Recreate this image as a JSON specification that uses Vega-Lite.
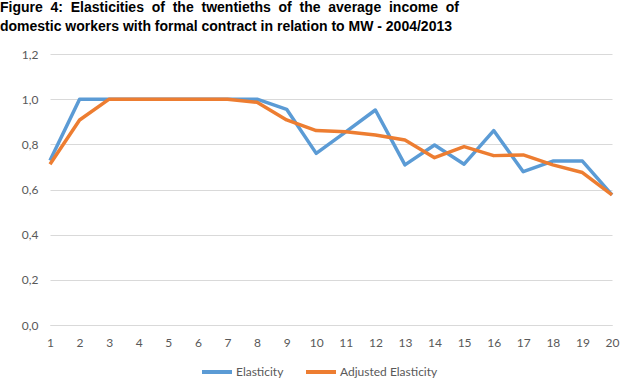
{
  "$schema": "https://vega.github.io/schema/vega-lite/v6.json",
  "width": 562,
  "height": 271,
  "autosize": {"type": "none"},
  "padding": {"left": 50, "top": 54, "right": 28, "bottom": 65},
  "background": "white",
  "title": {
    "text": ["Figure \u00a04: \u00a0Elasticities \u00a0of \u00a0the \u00a0twentieths \u00a0of \u00a0the \u00a0average \u00a0income \u00a0of", "domestic workers with formal contract in relation to MW - 2004/2013"],
    "anchor": "start",
    "frame": "group",
    "dx": -50,
    "offset": 14,
    "font": "Liberation Sans",
    "fontSize": 14,
    "fontWeight": "bold",
    "color": "#000000",
    "lineHeight": 19
  },
  "data": {
    "values": [
      {"k": 1, "series": "Elasticity", "value": 0.728},
      {"k": 2, "series": "Elasticity", "value": 1.0},
      {"k": 3, "series": "Elasticity", "value": 1.0},
      {"k": 4, "series": "Elasticity", "value": 1.0},
      {"k": 5, "series": "Elasticity", "value": 1.0},
      {"k": 6, "series": "Elasticity", "value": 1.0},
      {"k": 7, "series": "Elasticity", "value": 1.0},
      {"k": 8, "series": "Elasticity", "value": 1.0},
      {"k": 9, "series": "Elasticity", "value": 0.955},
      {"k": 10, "series": "Elasticity", "value": 0.76},
      {"k": 11, "series": "Elasticity", "value": 0.855},
      {"k": 12, "series": "Elasticity", "value": 0.952},
      {"k": 13, "series": "Elasticity", "value": 0.709},
      {"k": 14, "series": "Elasticity", "value": 0.797},
      {"k": 15, "series": "Elasticity", "value": 0.712},
      {"k": 16, "series": "Elasticity", "value": 0.861},
      {"k": 17, "series": "Elasticity", "value": 0.679},
      {"k": 18, "series": "Elasticity", "value": 0.726},
      {"k": 19, "series": "Elasticity", "value": 0.726},
      {"k": 20, "series": "Elasticity", "value": 0.576},
      {"k": 1, "series": "Adjusted Elasticity", "value": 0.712},
      {"k": 2, "series": "Adjusted Elasticity", "value": 0.908},
      {"k": 3, "series": "Adjusted Elasticity", "value": 1.0},
      {"k": 4, "series": "Adjusted Elasticity", "value": 1.0},
      {"k": 5, "series": "Adjusted Elasticity", "value": 1.0},
      {"k": 6, "series": "Adjusted Elasticity", "value": 1.0},
      {"k": 7, "series": "Adjusted Elasticity", "value": 1.0},
      {"k": 8, "series": "Adjusted Elasticity", "value": 0.986},
      {"k": 9, "series": "Adjusted Elasticity", "value": 0.908},
      {"k": 10, "series": "Adjusted Elasticity", "value": 0.861},
      {"k": 11, "series": "Adjusted Elasticity", "value": 0.856},
      {"k": 12, "series": "Adjusted Elasticity", "value": 0.841},
      {"k": 13, "series": "Adjusted Elasticity", "value": 0.819},
      {"k": 14, "series": "Adjusted Elasticity", "value": 0.741},
      {"k": 15, "series": "Adjusted Elasticity", "value": 0.79},
      {"k": 16, "series": "Adjusted Elasticity", "value": 0.75},
      {"k": 17, "series": "Adjusted Elasticity", "value": 0.753},
      {"k": 18, "series": "Adjusted Elasticity", "value": 0.709},
      {"k": 19, "series": "Adjusted Elasticity", "value": 0.675},
      {"k": 20, "series": "Adjusted Elasticity", "value": 0.576}
    ]
  },
  "mark": {"type": "line", "strokeWidth": 3.5, "strokeJoin": "round", "strokeCap": "butt"},
  "encoding": {
    "x": {
      "field": "k",
      "type": "quantitative",
      "scale": {"domain": [1, 20], "nice": false, "zero": false},
      "axis": {
        "title": null,
        "values": [1, 2, 3, 4, 5, 6, 7, 8, 9, 10, 11, 12, 13, 14, 15, 16, 17, 18, 19, 20],
        "grid": false,
        "ticks": false,
        "domain": true,
        "domainColor": "#D9D9D9",
        "domainWidth": 1,
        "labelPadding": 12,
        "labelFont": "Lato",
        "labelFontSize": 12,
        "labelColor": "#595959",
        "labelFlush": false
      }
    },
    "y": {
      "field": "value",
      "type": "quantitative",
      "scale": {"domain": [0, 1.2], "nice": false},
      "axis": {
        "title": null,
        "values": [0, 0.2, 0.4, 0.6, 0.8, 1.0, 1.2],
        "labelExpr": "replace(format(datum.value, '.1f'), '.', ',')",
        "grid": true,
        "gridColor": "#D9D9D9",
        "gridWidth": 1,
        "ticks": false,
        "domain": false,
        "labelPadding": 12,
        "labelFont": "Lato",
        "labelFontSize": 12,
        "labelColor": "#595959"
      }
    },
    "color": {
      "field": "series",
      "type": "nominal",
      "sort": ["Elasticity", "Adjusted Elasticity"],
      "scale": {"domain": ["Elasticity", "Adjusted Elasticity"], "range": ["#5B9BD5", "#ED7D31"]},
      "legend": {
        "title": null,
        "orient": "none",
        "legendX": 150,
        "legendY": 301,
        "direction": "horizontal",
        "symbolType": "stroke",
        "symbolSize": 900,
        "symbolStrokeWidth": 4,
        "labelFont": "Lato",
        "labelFontSize": 12,
        "labelColor": "#595959",
        "columnPadding": 14,
        "labelOffset": 2
      }
    }
  },
  "config": {"view": {"stroke": null}}
}
